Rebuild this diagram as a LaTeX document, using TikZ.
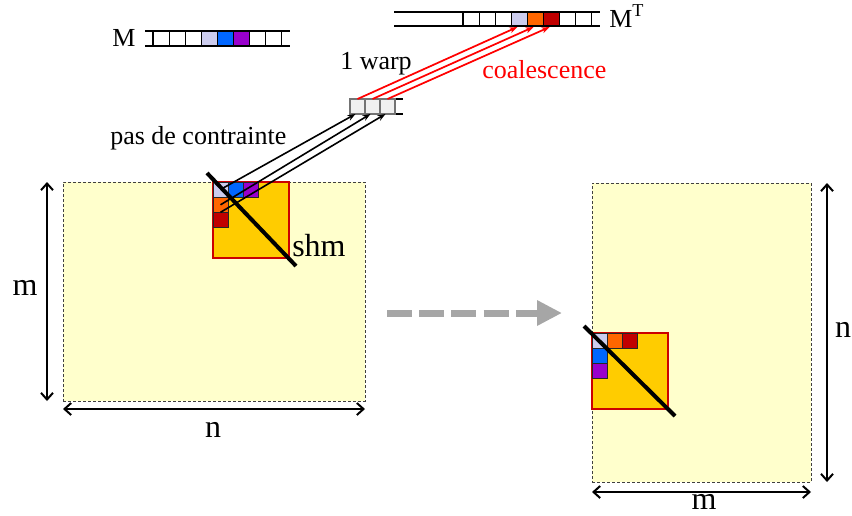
\documentclass[tikz,border=0pt]{standalone}
\usepackage{fontspec}
\setmainfont{Liberation Serif}
\usetikzlibrary{arrows.meta}
\definecolor{lav}{HTML}{CCCCEE}
\definecolor{blu}{HTML}{0066FF}
\definecolor{pur}{HTML}{9900CC}
\definecolor{ora}{HTML}{FF6600}
\definecolor{dred}{HTML}{C00000}
\definecolor{shmfill}{HTML}{FFCC00}
\definecolor{shmline}{HTML}{CC0000}
\definecolor{matfill}{HTML}{FFFFCC}
\definecolor{warpfill}{HTML}{F0F0F0}
\definecolor{grayarrow}{HTML}{A6A6A6}
\tikzset{
  matbox/.style={draw=black!75, fill=matfill, line width=0.6pt, dash pattern=on 2.25pt off 1.5pt, inner sep=0pt, outer sep=0pt, anchor=north west},
  shmbox/.style={draw=shmline, fill=shmfill, line width=1.9pt, minimum width=57pt, minimum height=57pt, inner sep=0pt, outer sep=0pt, anchor=north west},
  cell/.style={draw=black!85, line width=0.6pt, minimum width=11.25pt, minimum height=11.25pt, inner sep=0pt, outer sep=0pt, anchor=north west},
  rowcell/.style={draw=black, line width=0.8pt, minimum width=12.075pt, minimum height=11.25pt, inner sep=0pt, outer sep=0pt, anchor=north west},
  tcell/.style={draw=black, line width=0.8pt, minimum width=12.075pt, minimum height=10.5pt, inner sep=0pt, outer sep=0pt, anchor=north west},
  wcell/.style={draw=black!55, fill=warpfill, line width=0.8pt, minimum width=11.25pt, minimum height=11.25pt, inner sep=0pt, outer sep=0pt, anchor=north west},
  rail/.style={draw=black, line width=0.9pt},
  diag/.style={draw=black, line width=3pt},
  dim/.style={draw=black, line width=1.5pt, {Straight Barb[length=5pt,width=9pt]}-{Straight Barb[length=5pt,width=9pt]}},
  blk/.style={draw=black, line width=1.2pt, -{Stealth[length=6pt,width=4.5pt]}},
  redl/.style={draw=red, line width=1.3pt, -{Stealth[length=6pt,width=4.5pt]}},
  txt/.style={inner sep=0pt, font=\fontsize{19.5}{22}\selectfont},
  big/.style={inner sep=0pt, font=\fontsize{24}{28}\selectfont},
  grayarr/.style={draw=grayarrow, line width=5.25pt, dash pattern=on 18.75pt off 5.4pt, -{Triangle[length=18.75pt,width=18pt]}}
}
\begin{document}
\begin{tikzpicture}[x=0.75pt,y=-0.75pt]
\useasboundingbox (0,0) rectangle (852,515);

% matrices
\node[matbox, minimum width=226.5pt, minimum height=164.25pt] (A) at (63,182) {};
\node[matbox, minimum width=164.25pt, minimum height=224.25pt] (B) at (592,183) {};

% dimension arrows and labels
\draw[dim] ([xshift=-12pt]A.north west) -- ([xshift=-12pt]A.south west);
\draw[dim] ([yshift=-6pt]A.south west) -- ([yshift=-6pt]A.south east);
\node[big, anchor=base] (lm) at (25,295) {m};
\node[big, anchor=base] (ln) at (213,437) {n};
\draw[dim] ([xshift=12pt]B.north east) -- ([xshift=12pt]B.south east);
\draw[dim] ([yshift=-7.5pt]B.south west) -- ([yshift=-7.5pt]B.south east);
\node[big, anchor=base] (rm) at (704,509) {m};
\node[big, anchor=base] (rn) at (843,337) {n};

% left shared memory tile
\node[shmbox] (S1) at (213,182) {};
\node[cell, fill=lav]  (s1a) at (213,182) {};
\node[cell, fill=blu]  (s1b) at (228.3,182) {};
\node[cell, fill=pur]  (s1c) at (243.6,182) {};
\node[cell, fill=ora]  (s1d) at (213,197.3) {};
\node[cell, fill=dred] (s1e) at (213,212.6) {};
\coordinate (d1a) at (207,173);
\coordinate (d1b) at (296,266);
\draw[diag] (d1a) -- (d1b);
\node[big, anchor=base west] (shm) at (292,256) {shm};

% right shared memory tile
\node[shmbox] (S2) at (592,333) {};
\node[cell, fill=lav]  (s2a) at (592,333) {};
\node[cell, fill=ora]  (s2b) at (607,333) {};
\node[cell, fill=dred] (s2c) at (622,333) {};
\node[cell, fill=blu]  (s2d) at (592,348) {};
\node[cell, fill=pur]  (s2e) at (592,363) {};
\coordinate (d2a) at (584,326);
\coordinate (d2b) at (675,416);
\draw[diag] (d2a) -- (d2b);

% M row
\node[txt, anchor=base west] (Mlab) at (112,46) {M};
\coordinate (mr1) at (145,31); \coordinate (mr2) at (290,31);
\coordinate (mr3) at (145,46); \coordinate (mr4) at (290,46);
\draw[rail] (mr1) -- (mr2);
\draw[rail] (mr3) -- (mr4);
\foreach \i/\c in {1/white,2/white,3/white,4/lav,5/blu,6/pur,7/white,8/white}
  \node[rowcell, fill=\c] (m\i) at ({153+(\i-1)*16.1},31) {};

% M^T row
\node[txt, anchor=base west] (MTlab) at (609,27) {M\textsuperscript{T}};
\coordinate (tr1) at (394,12); \coordinate (tr2) at (600,12);
\coordinate (tr3) at (394,26); \coordinate (tr4) at (600,26);
\draw[rail] (tr1) -- (tr2);
\draw[rail] (tr3) -- (tr4);
\foreach \i/\c in {1/white,2/white,3/white,4/lav,5/ora,6/dred,7/white,8/white}
  \node[tcell, fill=\c] (t\i) at ({463+(\i-1)*16.1},12) {};

% warp row
\coordinate (wr1) at (350,99); \coordinate (wr2) at (403,99);
\coordinate (wr3) at (350,114); \coordinate (wr4) at (403,114);
\draw[rail] (wr1) -- (wr2);
\draw[rail] (wr3) -- (wr4);
\foreach \i in {1,2,3}
  \node[wcell] (w\i) at ({350+(\i-1)*15},99) {};

% labels
\node[txt, anchor=base west] (warp) at (340,69) {1 warp};
\node[txt, anchor=base west, text=red] (coal) at (482,78) {coalescence};
\node[txt, anchor=base west] (pas) at (110,144) {pas de contrainte};

% connectors
\draw[blk] (s1a.center) -- ([xshift=-1.5pt]w1.south);
\draw[blk] (s1d.center) -- ([xshift=-1.5pt]w2.south);
\draw[blk] (s1d.south) -- ([xshift=-1.5pt]w3.south);
\draw[redl] (w1.north) -- ([xshift=-1.5pt,yshift=-0.8pt]t4.south);
\draw[redl] (w2.north) -- ([xshift=-1.5pt,yshift=-0.8pt]t5.south);
\draw[redl] (w3.north) -- ([xshift=-1.5pt,yshift=-0.8pt]t6.south);

% transposition arrow
\coordinate (g1) at (387,313);
\coordinate (g2) at (562,313);
\draw[grayarr] (g1) -- (g2);
\end{tikzpicture}
\end{document}
